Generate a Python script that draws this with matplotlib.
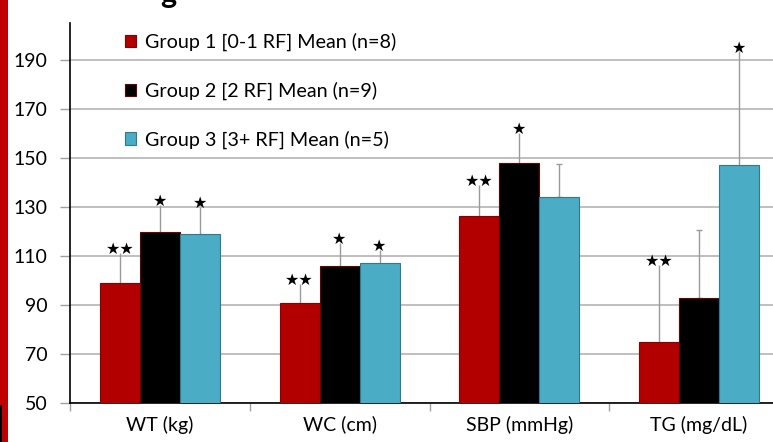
import matplotlib
matplotlib.use("Agg")
import matplotlib.pyplot as plt
from matplotlib.patches import Rectangle
import numpy as np

categories = ["WT (kg)", "WC (cm)", "SBP (mmHg)", "TG (mg/dL)"]
series_names = ["Group 1 [0-1 RF] Mean (n=8)", "Group 2 [2 RF] Mean (n=9)", "Group 3 [3+ RF] Mean (n=5)"]
g1 = [99.0, 90.7, 126.4, 75.0]
g2 = [119.8, 105.8, 148.2, 92.7]
g3 = [119.0, 107.0, 134.0, 147.1]
err1 = [12.3, 8.1, 12.7, 31.3]
err2 = [11.0, 9.7, 12.2, 27.8]
err3 = [10.9, 5.4, 13.8, 46.5]
stars1 = ["★★", "★★", "★★", "★★"]
stars2 = ["★", "★", "★", ""]
stars3 = ["★", "★", "", "★"]
yticks = [50, 70, 90, 110, 130, 150, 170, 190]

W, H = 773, 442
fig = plt.figure(figsize=(W / 100, H / 100), dpi=100)
plt.rcParams['font.family'] = ['Lato', 'DejaVu Sans']

left, right, bottom, top = 70, 789, 403, 23
ax = fig.add_axes([left / W, 1 - bottom / H, (right - left) / W, (bottom - top) / H])

x = np.arange(len(categories))
bw = 0.2226
colors = ["#B20000", "#000000", "#4BACC6"]
edges = ["#8A0000", "#6B0000", "#31788C"]
series = [g1, g2, g3]
errs = [err1, err2, err3]
stars = [stars1, stars2, stars3]

for i, (vals, er, st) in enumerate(zip(series, errs, stars)):
    xs = x + (i - 1) * bw
    ax.bar(xs, vals, width=bw, color=colors[i], edgecolor=edges[i], linewidth=0.8,
           label=series_names[i], zorder=3)
    for xx, v, e, s in zip(xs, vals, er, st):
        ax.errorbar([xx], [v], yerr=[[0], [e]], fmt='none', ecolor='#9a9a9a',
                    elinewidth=1, capsize=0 if s else 2, capthick=1, zorder=2)
        if s:
            ax.annotate(s, (xx, v + e), xytext=(0, 2.5), textcoords='offset points',
                        ha='center', va='center', fontsize=11.5, color='black',
                        family='DejaVu Sans', zorder=4)

ax.set_xlim(-0.5, 3.5)
ax.set_ylim(50, 205.2)
ax.set_yticks(yticks)
ax.set_yticklabels([str(t) for t in yticks])
ax.set_xticks(x)
ax.set_xticklabels(categories)
ax.set_xticks(np.arange(-0.5, 4.0, 1.0), minor=True)
ax.tick_params(axis='x', which='major', length=0, pad=9, labelsize=14)
ax.tick_params(axis='x', which='minor', length=6, color='#a0a0a0', width=1)
ax.tick_params(axis='y', which='major', length=7, color='#a0a0a0', width=1, pad=9, labelsize=14)
ax.yaxis.grid(True, color='#b4b4b4', linewidth=1.2, zorder=0)
ax.set_axisbelow(True)
for s in ['top', 'right']:
    ax.spines[s].set_visible(False)
for s in ['left', 'bottom']:
    ax.spines[s].set_color('black')
    ax.spines[s].set_linewidth(1.2)

ax.legend(loc='upper left', bbox_to_anchor=(125 / W, 1 - 33 / H), bbox_transform=fig.transFigure,
          frameon=False, fontsize=14.2, handlelength=0.58, handleheight=0.58,
          handletextpad=0.45, labelspacing=1.54, borderpad=0, borderaxespad=0)

# slide decorations cut off by the crop
fig.patches.append(Rectangle((0, 0), 8 / W, 1, transform=fig.transFigure,
                             facecolor='#C00000', edgecolor='none', zorder=0))
fig.patches.append(Rectangle((0, 0), 2 / W, 37 / H, transform=fig.transFigure,
                             facecolor='#000000', edgecolor='none', zorder=1))
fig.text(168 / W, 1 - 3 / H, "g", fontsize=22, fontweight='bold', ha='center', va='baseline')

fig.savefig("out.png", dpi=100)
